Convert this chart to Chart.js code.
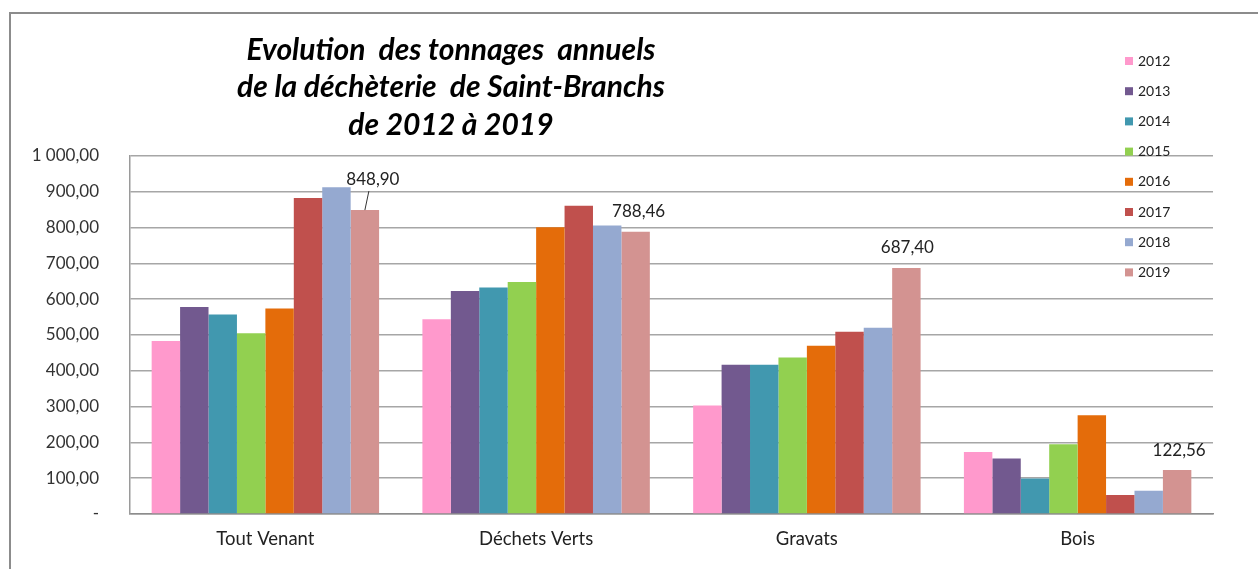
<!DOCTYPE html>
<html>
<head>
<meta charset="utf-8">
<script src="https://cdn.jsdelivr.net/npm/chart.js@4.4.0/dist/chart.umd.min.js"></script>
<style>
  html, body { margin: 0; padding: 0; background: #fff; }
  #wrap { position: relative; width: 1258px; height: 569px; }
  #frame { position: absolute; left: 9px; top: 12px; right: 0; bottom: 0; border-left: 2px solid #8c8c8c; border-top: 2px solid #8c8c8c; }
  canvas { position: absolute; left: 0; top: 0; }
</style>
</head>
<body>
<div id="wrap">
  <div id="frame"></div>
  <canvas id="chart" width="1258" height="569"></canvas>
</div>
<script>
// categories and series (tonnes)
const categories = ['Tout Venant', 'Déchets Verts', 'Gravats', 'Bois'];
const years = ['2012', '2013', '2014', '2015', '2016', '2017', '2018', '2019'];
const v2012 = [483, 544, 303, 173];
const v2013 = [578, 623, 417, 155];
const v2014 = [557, 633, 417, 99];
const v2015 = [505, 648, 437, 195];
const v2016 = [574, 801, 470, 276];
const v2017 = [883, 861, 509, 53];
const v2018 = [913, 806, 520, 65];
const v2019 = [848.90, 788.46, 687.40, 122.56];
const yTicks = [0, 100, 200, 300, 400, 500, 600, 700, 800, 900, 1000];
const titleLines = ['Evolution  des tonnages  annuels', 'de la déchèterie  de Saint-Branchs', 'de 2012 à 2019'];

const colors = ['#FF99CC', '#72598F', '#4198AF', '#92D050', '#E46C0A', '#C0504D', '#95A9D0', '#D39391'];
const series = [v2012, v2013, v2014, v2015, v2016, v2017, v2018, v2019];

const fmt = (v) => {
  if (v === 0) return '-';
  const s = v.toFixed(2).replace('.', ',');
  const [i, d] = s.split(',');
  return i.replace(/\B(?=(\d{3})+(?!\d))/g, ' ') + ',' + d;
};

const FONT = 'Lato, "Open Sans", sans-serif';

// title, legend and 2019 labels drawn on top
const extras = {
  id: 'extras',
  afterDatasetsDraw(chart) {
    const ctx = chart.ctx;
    ctx.save();

    // title
    ctx.fillStyle = '#000';
    ctx.font = 'italic bold 30px ' + FONT;
    ctx.textAlign = 'center';
    ctx.textBaseline = 'middle';
    titleLines.forEach((t, i) => ctx.fillText(t, 451, 50 + i * 37.5));

    // legend
    ctx.font = '14px ' + FONT;
    ctx.textAlign = 'left';
    chart.data.datasets.forEach((ds, i) => {
      const y = 61 + i * 30.2;
      ctx.fillStyle = ds.backgroundColor;
      ctx.fillRect(1125, y - 4, 8, 8);
      ctx.fillStyle = '#222';
      ctx.fillText(ds.label, 1138, y);
    });

    // labels on the 2019 series
    const last = chart.data.datasets.length - 1;
    const meta = chart.getDatasetMeta(last);
    const offs = [[8, -31], [3, -20], [1, -20], [2, -20]];
    ctx.font = '17px ' + FONT;
    ctx.textAlign = 'center';
    meta.data.forEach((bar, i) => {
      const v = chart.data.datasets[last].data[i];
      const x = bar.x + offs[i][0], y = bar.y + offs[i][1];
      ctx.fillStyle = '#222';
      ctx.fillText(fmt(v), x, y);
      if (i === 0) {
        ctx.strokeStyle = '#333';
        ctx.lineWidth = 1;
        ctx.beginPath();
        ctx.moveTo(bar.x + 4, y + 12);
        ctx.lineTo(bar.x, bar.y);
        ctx.stroke();
      }
    });
    ctx.restore();
  }
};

new Chart(document.getElementById('chart').getContext('2d'), {
  type: 'bar',
  data: {
    labels: categories,
    datasets: years.map((y, i) => ({
      label: y,
      data: series[i],
      backgroundColor: colors[i],
      borderWidth: 0,
      categoryPercentage: 0.84,
      barPercentage: 1
    }))
  },
  options: {
    responsive: false,
    animation: false,
    layout: { padding: { left: 0, right: 45, top: 156, bottom: 0 } },
    plugins: { legend: { display: false }, tooltip: { enabled: false }, title: { display: false } },
    scales: {
      x: {
        grid: { display: false, drawTicks: false },
        border: { display: true, color: '#8c8c8c', width: 1.5 },
        ticks: { color: '#222', font: { family: FONT, size: 18.5 }, padding: 14 },
        afterFit: (s) => { s.height = 55; }
      },
      y: {
        min: 0,
        max: 1000,
        afterBuildTicks: (s) => { s.ticks = yTicks.map(v => ({ value: v })); },
        grid: { color: '#a6a6a6', lineWidth: 1.5, drawTicks: false },
        border: { display: true, color: '#9a9a9a', width: 1.5 },
        ticks: { color: '#333', font: { family: FONT, size: 17 }, padding: 31, callback: (v) => fmt(v) },
        afterFit: (s) => { s.width = 130; }
      }
    }
  },
  plugins: [extras]
});
</script>
</body>
</html>
